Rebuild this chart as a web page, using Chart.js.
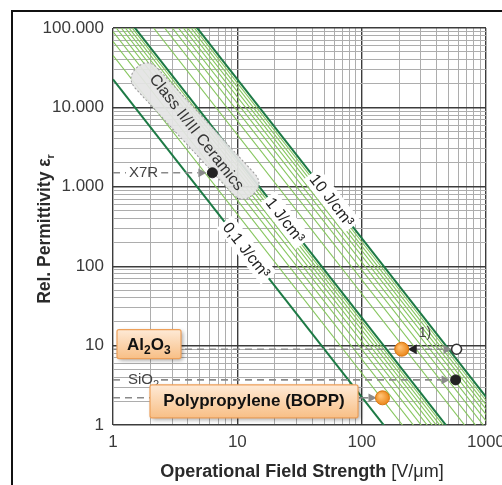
<!DOCTYPE html>
<html>
<head>
<meta charset="utf-8">
<script src="https://cdn.jsdelivr.net/npm/chart.js@4.4.1/dist/chart.umd.min.js"></script>
<style>
  html, body { margin: 0; padding: 0; background: #fff; }
  #wrap { position: relative; width: 502px; height: 485px; }
</style>
</head>
<body>
<div id="wrap"><canvas id="myChart" width="502" height="485"></canvas></div>
<script>
// Lines of constant energy density W = 1/2 * eps0 * epsR * E^2 (J/cm³)
const energyMajor = [0.1, 1, 10];
const energyMinor = [0.2, 0.3, 0.4, 0.5, 0.6, 0.7, 0.8, 0.9, 2, 3, 4, 5, 6, 7, 8, 9];
const energyLabels = ['0,1 J/cm³', '1 J/cm³', '10 J/cm³'];
const energyLabelEps = [160, 380, 680];   // eps_r where each label sits on its line
const EPS0 = 8.854e-12;

// Materials: field strength (V/µm) and rel. permittivity
const materialNames = ['X7R', 'Al₂O₃', 'SiO₂', 'Polypropylene (BOPP)'];
const materialField = [6.3, 210, 570, 147];
const materialEps = [1500, 9, 3.7, 2.2];
const al2o3Ideal = [580, 9];   // open circle, footnote "1)"

// Axes
const xTickValues = [1, 10, 100, 1000];
const xTickLabels = ['1', '10', '100', '1000'];
const yTickValues = [1, 10, 100, 1000, 10000, 100000];
const yTickLabels = ['1', '10', '100', '1.000', '10.000', '100.000'];

const FONT = '"Liberation Sans", Arial, sans-serif';
const DARK_GREEN = '#1d7a45';
const LIGHT_GREEN = '#86c65e';
const ORANGE = '#f08d1e';

function epsAt(W, E) {
  return (2 * W * 1e6) / (EPS0 * Math.pow(E * 1e6, 2));
}
function fieldAt(W, eps) {
  return Math.sqrt((2 * W * 1e6) / (EPS0 * eps)) / 1e6;
}

function lineDataset(W, major) {
  return {
    type: 'line',
    data: [{ x: 1, y: epsAt(W, 1) }, { x: 1000, y: epsAt(W, 1000) }],
    borderColor: major ? DARK_GREEN : LIGHT_GREEN,
    borderWidth: major ? 2 : 1.1,
    pointRadius: 0,
    fill: false,
    order: 2
  };
}

function logTicks(lo, hi) {
  const t = [];
  for (let d = lo; d < hi; d *= 10) {
    for (let m = 1; m < 10; m++) t.push({ value: m * d });
  }
  t.push({ value: hi });
  return t;
}
function isDecade(v) {
  const l = Math.log10(v);
  return Math.abs(l - Math.round(l)) < 1e-9;
}

const datasets = [];
energyMajor.forEach(W => datasets.push(lineDataset(W, true)));
energyMinor.forEach(W => datasets.push(lineDataset(W, false)));

function pointSet(x, y, opts) {
  return Object.assign({
    type: 'scatter',
    data: [{ x: x, y: y }],
    pointRadius: 5,
    pointHoverRadius: 5,
    order: 1
  }, opts);
}
// orange with a soft highlight
function orangeFill(ctx) {
  const el = ctx.element;
  if (!el || el.x === undefined) return ORANGE;
  const c = ctx.chart.ctx;
  const g = c.createRadialGradient(el.x - 2, el.y - 2, 1, el.x, el.y, 8);
  g.addColorStop(0, '#ffc070');
  g.addColorStop(1, '#e8800f');
  return g;
}
datasets.push(pointSet(materialField[0], materialEps[0], { backgroundColor: '#222', borderColor: '#222', pointRadius: 5 }));
datasets.push(pointSet(materialField[1], materialEps[1], { backgroundColor: orangeFill, borderColor: '#d97812', borderWidth: 1, pointRadius: 7 }));
datasets.push(pointSet(al2o3Ideal[0], al2o3Ideal[1], { backgroundColor: '#fff', borderColor: '#333', borderWidth: 1.6, pointRadius: 5 }));
datasets.push(pointSet(materialField[2], materialEps[2], { backgroundColor: '#222', borderColor: '#222', pointRadius: 5 }));
datasets.push(pointSet(materialField[3], materialEps[3], { backgroundColor: orangeFill, borderColor: '#d97812', borderWidth: 1, pointRadius: 7 }));

function arrowHead(c, x, y, dir, len, color) {
  c.save();
  c.fillStyle = color;
  c.beginPath();
  c.moveTo(x, y);
  c.lineTo(x - dir * len, y - len * 0.55);
  c.lineTo(x - dir * len, y + len * 0.55);
  c.closePath();
  c.fill();
  c.restore();
}
function dashed(c, x1, x2, y) {
  c.save();
  c.strokeStyle = '#8a8a8a';
  c.lineWidth = 1.6;
  c.setLineDash([7, 5]);
  c.beginPath();
  c.moveTo(x1, y);
  c.lineTo(x2, y);
  c.stroke();
  c.restore();
}
function roundRect(c, x, y, w, h, r) {
  c.beginPath();
  c.moveTo(x + r, y);
  c.lineTo(x + w - r, y);
  c.quadraticCurveTo(x + w, y, x + w, y + r);
  c.lineTo(x + w, y + h - r);
  c.quadraticCurveTo(x + w, y + h, x + w - r, y + h);
  c.lineTo(x + r, y + h);
  c.quadraticCurveTo(x, y + h, x, y + h - r);
  c.lineTo(x, y + r);
  c.quadraticCurveTo(x, y, x + r, y);
  c.closePath();
}
function orangeBox(c, x, y, w, h) {
  c.save();
  c.shadowColor = 'rgba(0,0,0,0.35)';
  c.shadowBlur = 4;
  c.shadowOffsetX = 2;
  c.shadowOffsetY = 2;
  const g = c.createLinearGradient(0, y, 0, y + h);
  g.addColorStop(0, '#feead6');
  g.addColorStop(1, '#f8bf86');
  c.fillStyle = g;
  roundRect(c, x, y, w, h, 2);
  c.fill();
  c.shadowColor = 'transparent';
  c.strokeStyle = '#eda05a';
  c.lineWidth = 1.2;
  c.stroke();
  c.restore();
}

const annotations = {
  id: 'annotations',
  beforeDraw(chart) {
    const c = chart.ctx;
    c.save();
    c.fillStyle = '#fff';
    c.fillRect(0, 0, chart.width, chart.height);
    // outer frame (left and top visible)
    c.strokeStyle = '#111';
    c.lineWidth = 2;
    c.beginPath();
    c.moveTo(12, chart.height + 2);
    c.lineTo(12, 11);
    c.lineTo(chart.width + 2, 11);
    c.stroke();
    c.restore();
  },
  afterDatasetDraw(chart, args) {
    if (args.index !== 0) return; // after the last energy line has been drawn
    const c = chart.ctx;
    const xs = chart.scales.x, ys = chart.scales.y;
    const area = chart.chartArea;
    const ang = Math.atan2(ys.getPixelForValue(1) - ys.getPixelForValue(100),
                           xs.getPixelForValue(10) - xs.getPixelForValue(1));

    // Class II/III ceramics region
    c.save();
    c.translate(195, 131);
    c.rotate(ang - 0.08);
    c.fillStyle = 'rgba(228,228,228,0.93)';
    c.strokeStyle = '#9a9a9a';
    c.lineWidth = 1;
    c.setLineDash([2, 2]);
    roundRect(c, -86, -15, 172, 30, 15);
    c.fill();
    c.stroke();
    c.setLineDash([]);
    c.rotate(0.08);
    c.fillStyle = '#333';
    c.font = '16px ' + FONT;
    c.textAlign = 'center';
    c.textBaseline = 'middle';
    c.fillText('Class II/III Ceramics', 2, 0);
    c.restore();

    // energy density labels on their lines
    energyMajor.forEach((W, i) => {
      const eps = energyLabelEps[i];
      const px = xs.getPixelForValue(fieldAt(W, eps));
      const py = ys.getPixelForValue(eps);
      c.save();
      c.translate(px, py);
      c.rotate(ang);
      c.font = '16px ' + FONT;
      const w = c.measureText(energyLabels[i]).width;
      c.fillStyle = '#fff';
      c.fillRect(-w / 2 - 3, -10, w + 6, 20);
      c.fillStyle = '#222';
      c.textAlign = 'center';
      c.textBaseline = 'middle';
      c.fillText(energyLabels[i], 0, 1);
      c.restore();
    });

    // reference lines for the materials
    c.save();
    c.font = '15px ' + FONT;
    c.fillStyle = '#444';
    c.textBaseline = 'middle';
    // X7R
    let y = ys.getPixelForValue(materialEps[0]);
    let xd = xs.getPixelForValue(materialField[0]);
    dashed(c, area.left, area.left + 13, y);
    c.fillText(materialNames[0], area.left + 16, y);
    const tw = c.measureText(materialNames[0]).width;
    dashed(c, area.left + 19 + tw, xd - 14, y);
    arrowHead(c, xd - 6, y, 1, 8, '#8a8a8a');
    // SiO2
    y = ys.getPixelForValue(materialEps[2]);
    xd = xs.getPixelForValue(materialField[2]);
    dashed(c, area.left, area.left + 12, y);
    c.fillText('SiO', area.left + 15, y);
    const sw = c.measureText('SiO').width;
    c.font = '11px ' + FONT;
    c.fillText('2', area.left + 15 + sw, y + 5);
    dashed(c, area.left + 48, xd - 14, y);
    arrowHead(c, xd - 6, y, 1, 8, '#8a8a8a');
    // Al2O3: dashed to the ideal value, arrow back to the real one
    y = ys.getPixelForValue(materialEps[1]);
    const xo = xs.getPixelForValue(al2o3Ideal[0]);
    xd = xs.getPixelForValue(materialField[1]);
    dashed(c, area.left, xo - 14, y);
    arrowHead(c, xo - 5, y, 1, 8, '#8a8a8a');
    arrowHead(c, xd + 6, y, -1, 9, '#222');
    c.font = '14px ' + FONT;
    c.fillStyle = '#444';
    c.fillText('1)', xd + 17, y - 16);
    // BOPP
    y = ys.getPixelForValue(materialEps[3]);
    xd = xs.getPixelForValue(materialField[3]);
    dashed(c, area.left, area.left + 40, y);
    c.restore();
    c.save();
    c.strokeStyle = '#8a8a8a';
    c.lineWidth = 1.6;
    c.beginPath();
    c.moveTo(area.left + 246, y);
    c.lineTo(xd - 14, y);
    c.stroke();
    arrowHead(c, xd - 6, y, 1, 8, '#8a8a8a');
    c.restore();
  },
  afterDatasetsDraw(chart) {
    const c = chart.ctx;
    const ys = chart.scales.y;
    const area = chart.chartArea;
    // Al2O3 box
    let yc = ys.getPixelForValue(10) - 2;
    orangeBox(c, area.left + 4, yc - 14, 64, 29);
    c.save();
    c.fillStyle = '#111';
    c.textBaseline = 'alphabetic';
    let x = area.left + 14;
    const parts = [['Al', false], ['2', true], ['O', false], ['3', true]];
    parts.forEach(p => {
      c.font = p[1] ? 'bold 12px ' + FONT : 'bold 17px ' + FONT;
      c.fillText(p[0], x, yc + 6 + (p[1] ? 4 : 0));
      x += c.measureText(p[0]).width;
    });
    c.restore();
    // BOPP box
    yc = ys.getPixelForValue(materialEps[3]) + 3;
    orangeBox(c, area.left + 37, yc - 16, 208, 33);
    c.save();
    c.fillStyle = '#111';
    c.font = 'bold 17px ' + FONT;
    c.textAlign = 'center';
    c.textBaseline = 'middle';
    c.fillText(materialNames[3], area.left + 37 + 104, yc + 1);
    c.restore();

    // axis titles
    c.save();
    c.fillStyle = '#2a2a2a';
    c.textBaseline = 'alphabetic';
    const t1 = 'Operational Field Strength';
    c.font = 'bold 18px ' + FONT;
    const w1 = c.measureText(t1).width;
    c.font = '18px ' + FONT;
    const t2 = ' [V/μm]';
    const w2 = c.measureText(t2).width;
    let tx = 302 - (w1 + w2) / 2;
    c.font = 'bold 18px ' + FONT;
    c.fillText(t1, tx, 477);
    c.font = '18px ' + FONT;
    c.fillText(t2, tx + w1, 477);

    c.translate(50, 229);
    c.rotate(-Math.PI / 2);
    c.font = 'bold 17.5px ' + FONT;
    const y1 = 'Rel. Permittivity ε';
    const wy1 = c.measureText(y1).width;
    c.font = 'bold 11px ' + FONT;
    const wy2 = c.measureText('r').width;
    tx = -(wy1 + wy2) / 2;
    c.font = 'bold 17.5px ' + FONT;
    c.fillText(y1, tx, 0);
    c.font = 'bold 11px ' + FONT;
    c.fillText('r', tx + wy1, 4);
    c.restore();
  }
};

const gridOpts = {
  drawTicks: false,
  color: ctx => (ctx.tick && isDecade(ctx.tick.value)) ? '#3c3c3c' : '#adadad',
  lineWidth: ctx => (ctx.tick && isDecade(ctx.tick.value)) ? 1.4 : 1
};

new Chart(document.getElementById('myChart'), {
  type: 'scatter',
  data: { datasets: datasets },
  options: {
    responsive: false,
    animation: false,
    events: [],
    layout: { padding: { left: 0, top: 28, right: 16, bottom: 0 } },
    plugins: { legend: { display: false }, tooltip: { enabled: false } },
    scales: {
      x: {
        type: 'logarithmic',
        min: 1,
        max: 1000,
        afterBuildTicks: s => { s.ticks = logTicks(1, 1000); },
        afterFit: s => { s.height = 60; s.paddingLeft = 0; s.paddingRight = 0; },
        grid: gridOpts,
        border: { display: false },
        ticks: {
          autoSkip: false,
          maxRotation: 0,
          padding: 7,
          color: '#3a3a3a',
          font: { family: FONT, size: 17 },
          callback: v => {
            const i = xTickValues.indexOf(v);
            return i >= 0 ? xTickLabels[i] : '';
          }
        }
      },
      y: {
        type: 'logarithmic',
        min: 1,
        max: 100000,
        afterBuildTicks: s => { s.ticks = logTicks(1, 100000); },
        afterFit: s => { s.width = 113; },
        grid: gridOpts,
        border: { display: false },
        ticks: {
          autoSkip: false,
          padding: 9,
          color: '#3a3a3a',
          font: { family: FONT, size: 17 },
          callback: v => {
            const i = yTickValues.indexOf(v);
            return i >= 0 ? yTickLabels[i] : '';
          }
        }
      }
    }
  },
  plugins: [annotations]
});
</script>
</body>
</html>
